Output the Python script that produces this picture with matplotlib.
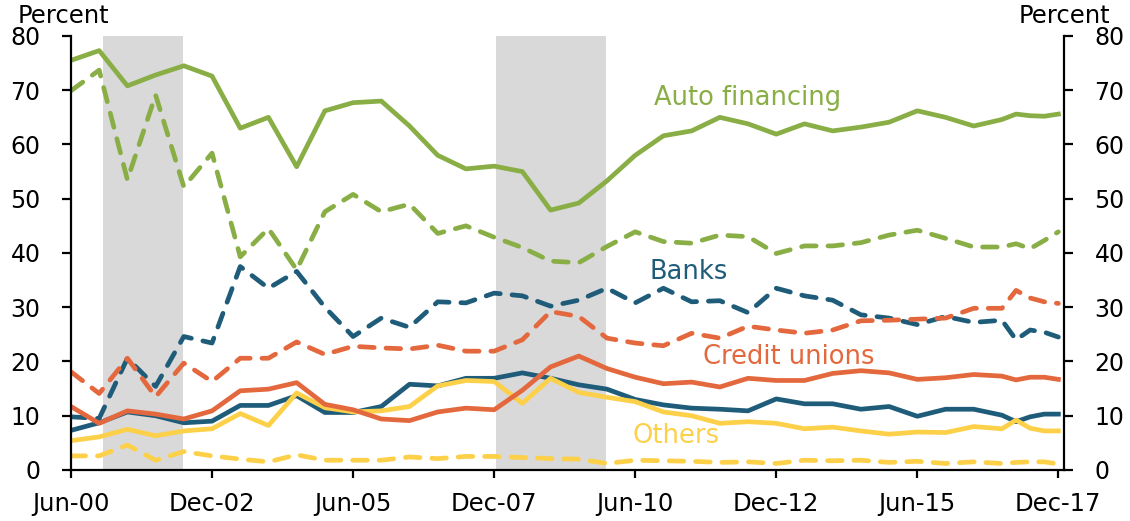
import matplotlib
matplotlib.use("Agg")
from matplotlib import pyplot as plt

# eixo x em anos desde Jun-00 (semestral ate Dec-16, trimestral em 2017)
t = [0, 0.5, 1, 1.5, 2, 2.5, 3, 3.5, 4, 4.5, 5, 5.5, 6, 6.5, 7, 7.5, 8, 8.5, 9, 9.5,
     10, 10.5, 11, 11.5, 12, 12.5, 13, 13.5, 14, 14.5, 15, 15.5, 16, 16.5, 16.75, 17, 17.25, 17.5]
tick_pos = [0, 2.5, 5, 7.5, 10, 12.5, 15, 17.5]
tick_labels = ['Jun-00', 'Dec-02', 'Jun-05', 'Dec-07', 'Jun-10', 'Dec-12', 'Jun-15', 'Dec-17']
recessions = [(0.57, 1.98), (7.54, 9.48)]

auto_solid = [75.5, 77.3, 70.8, 72.8, 74.5, 72.6, 63.0, 65.0, 55.9, 66.2, 67.7, 68.0, 63.4, 58.0,
              55.5, 56.0, 55.0, 47.9, 49.2, 53.3, 58.0, 61.6, 62.5, 65.0, 63.8, 61.9, 63.8, 62.5,
              63.2, 64.1, 66.2, 65.0, 63.4, 64.6, 65.6, 65.3, 65.2, 65.6]
auto_dash = [69.9, 73.7, 53.5, 69.1, 52.2, 58.4, 39.3, 44.5, 36.9, 47.6, 50.8, 47.6, 49.0, 43.6,
             45.0, 42.9, 41.0, 38.5, 38.2, 41.2, 43.9, 42.1, 41.8, 43.3, 43.0, 39.9, 41.3, 41.3,
             41.9, 43.3, 44.2, 42.7, 41.1, 41.1, 41.7, 40.8, 42.3, 43.9]
banks_solid = [7.3, 8.7, 10.7, 10.0, 8.7, 9.0, 11.9, 11.9, 13.7, 10.6, 10.6, 11.7, 15.8, 15.5,
               16.9, 16.9, 17.9, 16.9, 15.7, 14.9, 13.0, 12.0, 11.4, 11.2, 10.9, 13.1, 12.2, 12.2,
               11.2, 11.7, 9.9, 11.2, 11.2, 10.1, 8.9, 9.8, 10.3, 10.3]
banks_dash = [9.8, 9.5, 20.6, 15.4, 24.6, 23.4, 37.5, 33.5, 36.6, 30.0, 24.6, 28.0, 26.3, 31.0,
              30.8, 32.6, 32.1, 30.2, 31.3, 33.5, 30.8, 33.5, 31.0, 31.2, 29.0, 33.5, 32.1, 31.3,
              28.6, 28.0, 26.8, 28.3, 27.2, 27.6, 24.0, 25.8, 25.4, 24.5]
cu_solid = [11.7, 8.6, 10.9, 10.3, 9.4, 10.9, 14.6, 14.9, 16.1, 12.1, 11.1, 9.4, 9.1, 10.7,
            11.4, 11.1, 14.7, 19.0, 21.0, 18.7, 17.1, 15.9, 16.2, 15.3, 16.9, 16.5, 16.5, 17.8,
            18.3, 17.9, 16.7, 17.0, 17.6, 17.3, 16.6, 17.1, 17.1, 16.7]
cu_dash = [18.1, 14.1, 20.6, 13.5, 19.7, 16.3, 20.6, 20.6, 23.6, 21.3, 22.8, 22.5, 22.3, 23.0,
           21.9, 21.9, 24.0, 29.2, 28.3, 24.3, 23.4, 22.9, 25.2, 24.3, 26.5, 25.8, 25.2, 25.8,
           27.5, 27.6, 27.8, 28.0, 29.8, 29.8, 33.1, 31.7, 31.0, 30.7]
others_solid = [5.4, 6.1, 7.5, 6.3, 7.2, 7.6, 10.4, 8.2, 14.2, 11.5, 10.7, 10.9, 11.7, 15.5,
                16.5, 16.3, 12.3, 16.9, 14.3, 13.4, 12.6, 10.7, 10.0, 8.6, 8.9, 8.6, 7.6, 7.9,
                7.2, 6.6, 7.0, 6.9, 8.0, 7.6, 9.2, 7.7, 7.2, 7.2]
others_dash = [2.6, 2.6, 4.6, 1.8, 3.4, 2.6, 2.0, 1.5, 2.8, 1.8, 1.8, 1.8, 2.4, 2.1,
               2.5, 2.5, 2.3, 2.1, 2.0, 1.2, 1.8, 1.7, 1.6, 1.4, 1.5, 1.2, 1.8, 1.7,
               1.8, 1.4, 1.6, 1.2, 1.5, 1.2, 1.4, 1.5, 1.5, 1.1]

green = '#8aae46'
blue = '#1f5c7a'
orange = '#e4683d'
yellow = '#fdd04a'

plt.rcParams['font.family'] = ['DejaVu Sans']

fig = plt.figure(figsize=(11.3, 5.21), dpi=100)
ax = fig.add_axes([0.0628, 0.0979, 0.8788, 0.8331])

for a, b in recessions:
    ax.axvspan(a, b, color='#d9d9d9', lw=0, zorder=0)

lw = 3.4
dash = dict(ls=(0, (3.1, 2.5)), dash_capstyle='round')
ax.plot(t, others_dash, color=yellow, lw=lw, **dash)
ax.plot(t, banks_dash, color=blue, lw=lw, **dash)
ax.plot(t, cu_dash, color=orange, lw=lw, **dash)
ax.plot(t, auto_dash, color=green, lw=lw, **dash)
ax.plot(t, banks_solid, color=blue, lw=lw)
ax.plot(t, others_solid, color=yellow, lw=lw)
ax.plot(t, cu_solid, color=orange, lw=lw)
ax.plot(t, auto_solid, color=green, lw=lw)

ax.set_xlim(0, 17.6)
ax.set_ylim(0, 80)
ax.set_xticks(tick_pos)
ax.set_xticklabels(tick_labels)
ax.set_yticks(range(0, 81, 10))
for s in ['left', 'right', 'bottom']:
    ax.spines[s].set_linewidth(1.6)
ax.spines['top'].set_visible(False)
ax.tick_params(axis='y', direction='out', length=6.5, width=1.6, labelsize=17,
               right=True, labelright=True, pad=15.5)
ax.tick_params(axis='x', direction='out', length=5.8, width=1.6, labelsize=17.5, pad=10)

# rotulos das series
ax.text(10.34, 68.6, 'Auto financing', color=green, fontsize=18.5, va='center')
ax.text(10.25, 36.5, 'Banks', color=blue, fontsize=18.5, va='center')
ax.text(11.2, 20.8, 'Credit unions', color=orange, fontsize=18.5, va='center')
ax.text(9.95, 6.2, 'Others', color=yellow, fontsize=18.5, va='center')

fig.text(18 / 1130, 1 - 16 / 521, 'Percent', fontsize=17.5, va='center', ha='left')
fig.text(1110 / 1130, 1 - 16 / 521, 'Percent', fontsize=17.5, va='center', ha='right')

fig.savefig('out.png', dpi=100)
